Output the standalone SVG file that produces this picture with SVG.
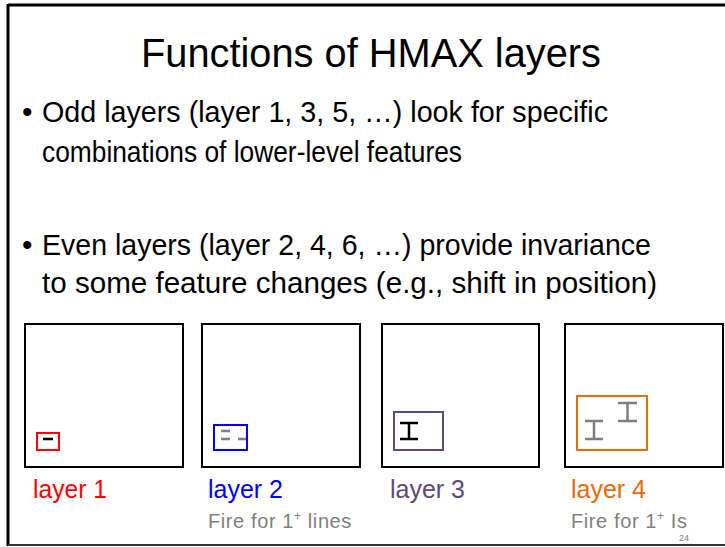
<svg xmlns="http://www.w3.org/2000/svg" width="725" height="547" viewBox="0 0 725 547">
<style>
text{font-family:"Liberation Sans",Arial,sans-serif}
.title{font-size:41px;fill:#000}
.body{font-size:30px;fill:#000}
.lbl{font-size:25px}
.sub{font-size:20px;fill:#7f7f7f;letter-spacing:0.6px}
.panel{fill:#fff;stroke:#000;stroke-width:2}
.gbar{stroke:#7f7f7f;stroke-width:2.5;fill:none}
</style>
<rect width="725" height="547" fill="#fff"/>
<g id="frame" fill="none">
<line x1="8" y1="5" x2="725" y2="5" stroke="#000" stroke-width="3"/>
<line x1="8" y1="4" x2="8" y2="546" stroke="#000" stroke-width="3"/>
<line x1="8" y1="545" x2="725" y2="545" stroke="#333" stroke-width="2"/>
</g>
<text id="title" class="title" x="141" y="67" textLength="460" lengthAdjust="spacingAndGlyphs">Functions of HMAX layers</text>
<g id="bullets">
<text class="body" x="22" y="122">•</text>
<text class="body" x="42" y="122" textLength="566" lengthAdjust="spacingAndGlyphs">Odd layers (layer 1, 3, 5, …) look for specific</text>
<text class="body" x="42" y="162" textLength="420" lengthAdjust="spacingAndGlyphs">combinations of lower-level features</text>
<text class="body" x="22" y="255">•</text>
<text class="body" x="42" y="255" textLength="609" lengthAdjust="spacingAndGlyphs">Even layers (layer 2, 4, 6, …) provide invariance</text>
<text class="body" x="42" y="293" textLength="615" lengthAdjust="spacingAndGlyphs">to some feature changes (e.g., shift in position)</text>
</g>
<g id="layer1">
<rect class="panel" x="25" y="324" width="158" height="143"/>
<rect x="37" y="433" width="22" height="17" fill="none" stroke="#ff0000" stroke-width="2"/>
<line x1="43" y1="439" x2="53" y2="439" stroke="#000" stroke-width="2.5"/>
<text class="lbl" x="33" y="498" fill="#ff0000" textLength="74" lengthAdjust="spacingAndGlyphs">layer 1</text>
</g>
<g id="layer2">
<rect class="panel" x="202" y="324" width="158" height="143"/>
<rect x="214" y="425" width="33" height="25" fill="none" stroke="#0000ff" stroke-width="2"/>
<line class="gbar" x1="221" y1="431" x2="230" y2="431"/>
<line class="gbar" x1="221" y1="439" x2="230" y2="439"/>
<line class="gbar" x1="238" y1="439" x2="246" y2="439"/>
<text class="lbl" x="208" y="498" fill="#0000ff" textLength="75" lengthAdjust="spacingAndGlyphs">layer 2</text>
<text class="sub" x="208" y="528">Fire for 1<tspan font-size="12" dy="-8">+</tspan><tspan dy="8"> lines</tspan></text>
</g>
<g id="layer3">
<rect class="panel" x="382" y="324" width="157" height="143"/>
<rect x="394" y="412" width="49" height="38" fill="none" stroke="#604a7b" stroke-width="2"/>
<path d="M400 423H418M409 423V439M400 439H418" fill="none" stroke="#000" stroke-width="2.5"/>
<text class="lbl" x="390" y="498" fill="#604a7b" textLength="75" lengthAdjust="spacingAndGlyphs">layer 3</text>
</g>
<g id="layer4">
<rect class="panel" x="565" y="324" width="158" height="143"/>
<rect x="577" y="396" width="70" height="54" fill="none" stroke="#e46c0a" stroke-width="2"/>
<path class="gbar" d="M585 421H603M594 421V439M585 439H603"/>
<path class="gbar" d="M618 403H637M627.5 403V421M618 421H637"/>
<text class="lbl" x="571" y="498" fill="#e46c0a" textLength="75" lengthAdjust="spacingAndGlyphs">layer 4</text>
<text class="sub" x="571" y="528">Fire for 1<tspan font-size="12" dy="-8">+</tspan><tspan dy="8"> Is</tspan></text>
</g>
<text id="page" x="679" y="541" font-size="9" fill="#7f7f7f">24</text>
</svg>
